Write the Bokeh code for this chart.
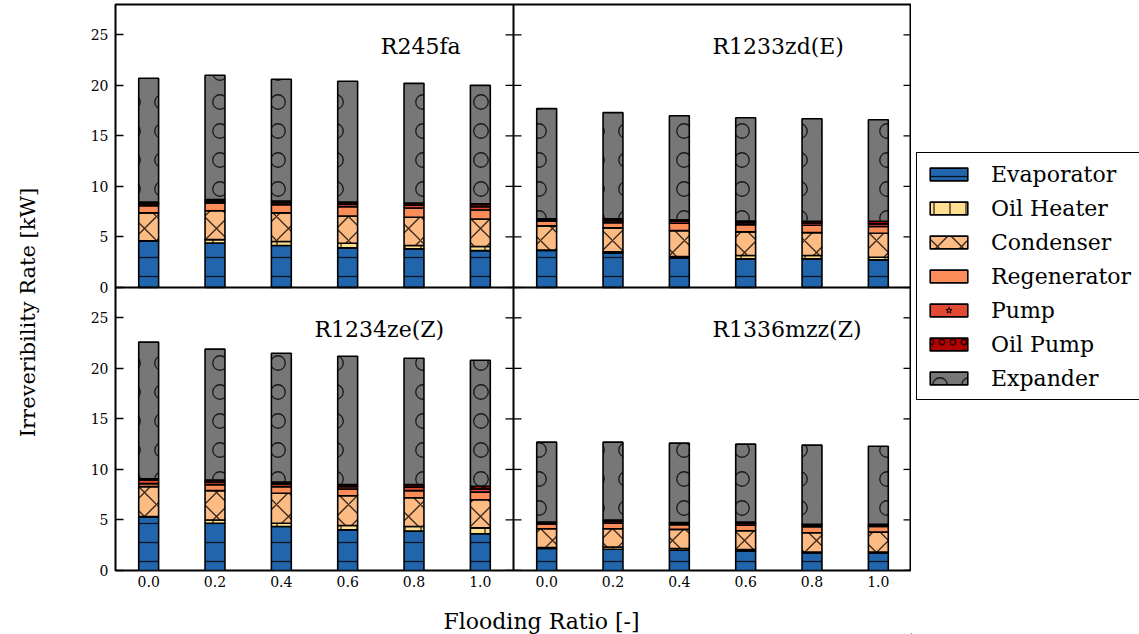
from math import pi

from bokeh.plotting import figure
from bokeh.layouts import row, column
from bokeh.models import (ColumnDataSource, Range1d, LinearAxis, FixedTicker, Span, Label,
                          Legend, LegendItem, CustomJSTickFormatter)
from bokeh.embed import file_html
from bokeh.resources import INLINE

# ---- data (kW) -------------------------------------------------------------
flooding = [0.0, 0.2, 0.4, 0.6, 0.8, 1.0]
components = ["Evaporator", "Oil Heater", "Condenser", "Regenerator", "Pump", "Oil Pump", "Expander"]
y_ticks = [0, 5, 10, 15, 20, 25]

r245fa_evaporator = [4.57, 4.40, 4.15, 3.92, 3.82, 3.65]
r245fa_oil_heater = [0.05, 0.34, 0.40, 0.46, 0.33, 0.40]
r245fa_condenser = [2.76, 2.86, 2.83, 2.70, 2.80, 2.73]
r245fa_regenerator = [0.72, 0.77, 0.82, 0.92, 0.92, 0.89]
r245fa_pump = [0.20, 0.18, 0.20, 0.25, 0.28, 0.33]
r245fa_oil_pump = [0.15, 0.15, 0.15, 0.20, 0.20, 0.27]
r245fa_expander = [12.25, 12.30, 12.05, 11.95, 11.85, 11.73]

r1233zd_evaporator = [3.66, 3.40, 2.93, 2.83, 2.83, 2.73]
r1233zd_oil_heater = [0.05, 0.12, 0.14, 0.33, 0.33, 0.27]
r1233zd_condenser = [2.39, 2.38, 2.56, 2.34, 2.27, 2.37]
r1233zd_regenerator = [0.45, 0.52, 0.72, 0.72, 0.73, 0.66]
r1233zd_pump = [0.15, 0.20, 0.20, 0.20, 0.22, 0.27]
r1233zd_oil_pump = [0.10, 0.18, 0.15, 0.16, 0.17, 0.25]
r1233zd_expander = [10.90, 10.50, 10.30, 10.22, 10.15, 10.05]

r1234ze_evaporator = [5.30, 4.68, 4.35, 4.02, 3.90, 3.63]
r1234ze_oil_heater = [0.05, 0.32, 0.32, 0.43, 0.45, 0.59]
r1234ze_condenser = [2.95, 2.90, 2.98, 2.95, 2.85, 2.78]
r1234ze_regenerator = [0.30, 0.60, 0.65, 0.67, 0.70, 0.75]
r1234ze_pump = [0.35, 0.25, 0.27, 0.23, 0.35, 0.32]
r1234ze_oil_pump = [0.12, 0.20, 0.18, 0.20, 0.25, 0.26]
r1234ze_expander = [13.53, 12.95, 12.75, 12.70, 12.50, 12.47]

r1336mzz_evaporator = [2.17, 2.10, 2.00, 1.90, 1.73, 1.73]
r1336mzz_oil_heater = [0.10, 0.23, 0.17, 0.17, 0.10, 0.10]
r1336mzz_condenser = [1.86, 1.80, 1.90, 1.86, 1.90, 1.97]
r1336mzz_regenerator = [0.47, 0.54, 0.46, 0.54, 0.60, 0.57]
r1336mzz_pump = [0.12, 0.18, 0.12, 0.18, 0.14, 0.10]
r1336mzz_oil_pump = [0.08, 0.15, 0.10, 0.15, 0.10, 0.10]
r1336mzz_expander = [7.90, 7.70, 7.85, 7.70, 7.83, 7.73]

# ---- styling ---------------------------------------------------------------
fills = ["#2166ac", "#fee090", "#fdbb84", "#fc8d59", "#e34a33", "#b30000", "#777777"]
hatches = ["-", "|", "x", " ", " ", "o", "o"]
hatch_scales = [19, 16, 24, 12, 12, 11, 29]
SERIF = "DejaVu Serif"
bar_style = dict(line_color="black", line_width=1.6, hatch_color="black",
                 hatch_alpha=0.8, hatch_weight=1.3)

x_lo, x_hi = -0.1, 1.1          # x extent of one panel
y_hi = 28                        # y extent of one panel
x_span = x_hi - x_lo
bar_w = 0.06


def blank_figure(w, h):
    f = figure(width=w, height=h, x_range=Range1d(0, 1), y_range=Range1d(0, 1),
               x_axis_location=None, y_axis_location=None, min_border=0,
               output_backend="svg", toolbar_location=None)
    f.grid.visible = False
    f.outline_line_color = None
    return f


# ---- 2x2 panel block -------------------------------------------------------
p = figure(width=851, height=600,
           x_range=Range1d(x_lo, x_hi + x_span), y_range=Range1d(0, 2 * y_hi),
           x_axis_location=None, y_axis_location=None,
           min_border_left=55, min_border_right=0, min_border_top=4, min_border_bottom=30,
           output_backend="svg", toolbar_location=None)
p.extra_x_ranges = {"right": Range1d(x_lo - x_span, x_hi)}
p.extra_y_ranges = {"top": Range1d(-y_hi, y_hi)}
p.grid.visible = False
p.outline_line_color = "black"
p.outline_line_width = 2

panels = [
    ("R245fa", 0.7, "default", "top",
     [r245fa_evaporator, r245fa_oil_heater, r245fa_condenser, r245fa_regenerator,
      r245fa_pump, r245fa_oil_pump, r245fa_expander]),
    ("R1233zd(E)", 0.5, "right", "top",
     [r1233zd_evaporator, r1233zd_oil_heater, r1233zd_condenser, r1233zd_regenerator,
      r1233zd_pump, r1233zd_oil_pump, r1233zd_expander]),
    ("R1234ze(Z)", 0.5, "default", "default",
     [r1234ze_evaporator, r1234ze_oil_heater, r1234ze_condenser, r1234ze_regenerator,
      r1234ze_pump, r1234ze_oil_pump, r1234ze_expander]),
    ("R1336mzz(Z)", 0.5, "right", "default",
     [r1336mzz_evaporator, r1336mzz_oil_heater, r1336mzz_condenser, r1336mzz_regenerator,
      r1336mzz_pump, r1336mzz_oil_pump, r1336mzz_expander]),
]

for name, title_x, xr, yr, series in panels:
    data = {"x": flooding}
    for comp, vals in zip(components, series):
        data[comp] = vals
    src = ColumnDataSource(data)
    p.vbar_stack(components, x="x", width=bar_w, source=src,
                 x_range_name=xr, y_range_name=yr,
                 fill_color=fills, hatch_pattern=hatches, hatch_scale=hatch_scales,
                 **bar_style)
    p.add_layout(Label(x=title_x, y=23.8, x_range_name=xr, y_range_name=yr, text=name,
                       text_font=SERIF, text_font_size="22px", text_color="black",
                       text_baseline="alphabetic"))

# axes
x_ticks = flooding + [round(f + x_span, 6) for f in flooding]
y_ticks_all = y_ticks + [t + y_hi for t in y_ticks]

xfmt = CustomJSTickFormatter(args=dict(span=x_span), code="""
    const v = tick > span - 0.05 ? tick - span : tick;
    return Math.abs(v) < 1e-9 ? '0.0' : v.toFixed(1);
""")
yfmt = CustomJSTickFormatter(args=dict(off=y_hi),
                             code="return (tick >= off ? tick - off : tick).toFixed(0);")

xaxis = LinearAxis(ticker=FixedTicker(ticks=x_ticks), formatter=xfmt,
                   major_tick_in=0, major_tick_out=0, axis_line_color=None,
                   major_label_standoff=5, major_label_text_font=SERIF,
                   major_label_text_font_size="14px", major_label_text_color="black")
p.add_layout(xaxis, "below")

yaxis = LinearAxis(ticker=FixedTicker(ticks=y_ticks_all), formatter=yfmt,
                   major_tick_in=8, major_tick_out=0, major_tick_line_width=1.3,
                   axis_line_color=None, major_label_standoff=7,
                   major_label_text_font=SERIF, major_label_text_font_size="14px",
                   major_label_text_color="black")
p.add_layout(yaxis, "left")

# inward ticks along the shared vertical edge and the right edge
for edge in (x_hi, x_hi + x_span):
    p.scatter(x=[edge] * len(y_ticks_all), y=y_ticks_all, marker="dash", size=16,
              line_color="black", line_width=1.3)

p.add_layout(Span(location=y_hi, dimension="width", line_color="black", line_width=2))
p.add_layout(Span(location=x_hi, dimension="height", line_color="black", line_width=2))

# ---- axis titles -----------------------------------------------------------
ylab = blank_figure(60, 634)
ylab.add_layout(Label(x=27, y=322, x_units="screen", y_units="screen", angle=pi / 2,
                      text="Irreveribility Rate [kW]", text_font=SERIF,
                      text_font_size="21px", text_color="black",
                      text_align="center", text_baseline="alphabetic"))

# this strip shares the panel block's left border, so x is measured from the frame
xlab = blank_figure(851, 34)
xlab.add_layout(Label(x=426, y=13, x_units="screen", y_units="screen",
                      text="Flooding Ratio [-]", text_font=SERIF, text_font_size="22px",
                      text_color="black", text_align="center", text_baseline="alphabetic"))

# ---- legend ----------------------------------------------------------------
leg = blank_figure(228, 634)
# one bar per entry, parked outside the visible range, so the legend has styles to draw
proxy = ColumnDataSource(dict(x=[-5.0], top=[-5.0]))
items = []
for comp, fc, hp, hs in zip(components, fills, hatches, hatch_scales):
    r = leg.vbar(x="x", top="top", bottom=-6.0, width=0.1, source=proxy, fill_color=fc,
                 hatch_pattern=hp, hatch_scale=hs, **bar_style)
    rend = [r]
    if comp == "Pump":
        rend.append(leg.scatter(x="x", y="top", source=proxy, marker="star", size=10,
                                fill_color="#e34a33", line_color="black", line_width=1))
    items.append(LegendItem(label=comp, renderers=rend))
legend = Legend(items=items, location=(5, 234), margin=0, padding=8, spacing=8,
                glyph_width=47, glyph_height=16, label_height=26, label_standoff=19,
                label_text_font=SERIF, label_text_font_size="22px", label_text_color="black",
                border_line_color="black", border_line_width=1.5, border_line_alpha=1,
                background_fill_color="white", background_fill_alpha=1)
leg.add_layout(legend)

layout = row(ylab, column(p, xlab), leg)
open("out.html", "w").write(file_html(layout, INLINE))
